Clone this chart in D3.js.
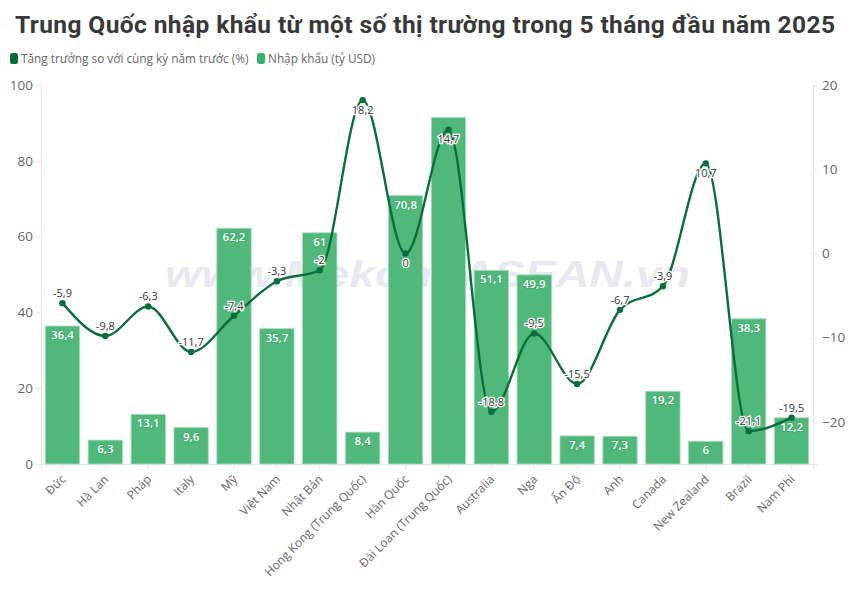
<!DOCTYPE html>
<html>
<head>
<meta charset="utf-8">
<script src="https://cdn.jsdelivr.net/npm/d3@7/dist/d3.min.js"></script>
<style>
html,body{margin:0;padding:0;background:#fff;}
svg{display:block;font-family:"Open Sans","Noto Sans",sans-serif;}
</style>
</head>
<body>
<svg id="chart" width="850" height="591"></svg>
<script>
const categories = ["Đức","Hà Lan","Pháp","Italy","Mỹ","Việt Nam","Nhật Bản","Hong Kong (Trung Quốc)","Hàn Quốc","Đài Loan (Trung Quốc)","Australia","Nga","Ấn Độ","Anh","Canada","New Zealand","Brazil","Nam Phi"];
const imports = [36.4,6.3,13.1,9.6,62.2,35.7,61,8.4,70.8,91.4,51.1,49.9,7.4,7.3,19.2,6,38.3,12.2];
const importLabels = ["36,4","6,3","13,1","9,6","62,2","35,7","61","8,4","70,8","","51,1","49,9","7,4","7,3","19,2","6","38,3","12,2"];
const growth = [-5.9,-9.8,-6.3,-11.7,-7.4,-3.3,-2,18.2,0,14.7,-18.8,-9.5,-15.5,-6.7,-3.9,10.7,-21.1,-19.5];
const labelsBelow = ["Hong Kong (Trung Quốc)","Hàn Quốc","Đài Loan (Trung Quốc)","New Zealand"];
const leftTicks = [0,20,40,60,80,100];
const rightTicks = [-20,-10,0,10,20];
const legendItems = ["Tăng trưởng so với cùng kỳ năm trước (%)","Nhập khẩu (tỷ USD)"];
const titleText = "Trung Quốc nhập khẩu từ một số thị trường trong 5 tháng đầu năm 2025";
const watermark = "www.MekongASEAN.vn";

const comma = v => String(v).replace(".", ",");
const svg = d3.select("#chart");
const M = {l:41, r:813, t:85, b:464};

const x = d3.scaleBand().domain(categories).range([M.l,M.r]).paddingInner(0.2).paddingOuter(0.1);
const yL = d3.scaleLinear().domain([0,100]).range([M.b,M.t]);
const yR = d3.scaleLinear().domain([-25,20]).range([M.b,M.t]);
const cx = c => x(c)+x.bandwidth()/2;

svg.append("text").attr("x",15).attr("y",33).attr("font-family","Roboto,sans-serif").attr("font-size",24.5).attr("font-weight",700)
  .attr("fill","#383838").attr("textLength",820).attr("lengthAdjust","spacing").text(titleText);

// legend
const lg = svg.append("g");
[[10,"#0a6b3a",21,legendItems[0]],[257,"#2fb36d",268,legendItems[1]]].forEach(([sx,col,tx,t])=>{
  lg.append("rect").attr("x",sx).attr("y",53).attr("width",8).attr("height",11).attr("rx",2.5).attr("fill",col);
  lg.append("text").attr("x",tx).attr("y",63).attr("font-size",11.8).attr("fill","#666").text(t);
});

// watermark
svg.append("text").attr("x",165).attr("y",287)
  .attr("font-family",'"Liberation Sans",sans-serif').attr("font-size",36).attr("font-style","italic").attr("font-weight",700)
  .attr("textLength",525).attr("lengthAdjust","spacingAndGlyphs")
  .attr("fill","#e8e9f2").text(watermark);

// axes
const axL = svg.append("g").attr("transform",`translate(${M.l},0)`).call(d3.axisLeft(yL).tickValues(leftTicks).tickSize(5).tickPadding(3));
const axR = svg.append("g").attr("transform",`translate(${M.r},0)`).call(d3.axisRight(yR).tickValues(rightTicks).tickSize(5).tickPadding(4));
const axB = svg.append("g").attr("transform",`translate(0,${M.b})`).call(d3.axisBottom(x).tickSize(5).tickPadding(3));
[axL,axR,axB].forEach(a=>{
  a.selectAll("path,line").attr("stroke","#e6e6e6");
  a.selectAll("text").attr("fill","#666").attr("font-size",13.5).attr("font-family",'"Open Sans",sans-serif');
});
axB.selectAll("text").attr("font-size",12).attr("text-anchor","end").attr("dx",0).attr("dy",0)
  .attr("transform","translate(4,16) rotate(-45)").attr("y",0).attr("x",0);

// bars
svg.append("g").selectAll("rect").data(categories).join("rect")
  .attr("x",c=>x(c)).attr("width",x.bandwidth())
  .attr("y",(c,i)=>yL(imports[i])).attr("height",(c,i)=>yL(0)-yL(imports[i]))
  .attr("fill","#51b87c").attr("stroke","#a5dcbc").attr("stroke-width",0.8);

// bar labels
svg.append("g").selectAll("text").data(categories).join("text")
  .attr("x",c=>cx(c)).attr("y",(c,i)=>yL(imports[i])+9)
  .attr("dy","0.35em").attr("text-anchor","middle").attr("font-size",11.5).attr("font-weight",600)
  .attr("fill","#fff").attr("stroke","#3ba76a").attr("stroke-width",2).attr("stroke-opacity",0.6).style("paint-order","stroke")
  .text((c,i)=>importLabels[i]);

// line
const line = d3.line().x((d,i)=>cx(categories[i])).y(d=>yR(d)).curve(d3.curveMonotoneX);
svg.append("path").datum(growth).attr("d",line).attr("fill","none").attr("stroke","#0a6e3c").attr("stroke-width",2.4);
svg.append("g").selectAll("circle").data(growth).join("circle")
  .attr("cx",(d,i)=>cx(categories[i])).attr("cy",d=>yR(d)).attr("r",3.2).attr("fill","#0a6e3c");

// line labels
svg.append("g").selectAll("text").data(growth).join("text")
  .attr("x",(d,i)=>cx(categories[i]))
  .attr("y",(d,i)=>yR(d)+(labelsBelow.includes(categories[i])?10:-10))
  .attr("dy","0.35em").attr("text-anchor","middle").attr("font-size",11).attr("font-weight",500)
  .attr("fill","#333").attr("stroke","#fff").attr("stroke-width",2.6).style("paint-order","stroke")
  .text(d=>comma(d));
</script>
</body>
</html>
